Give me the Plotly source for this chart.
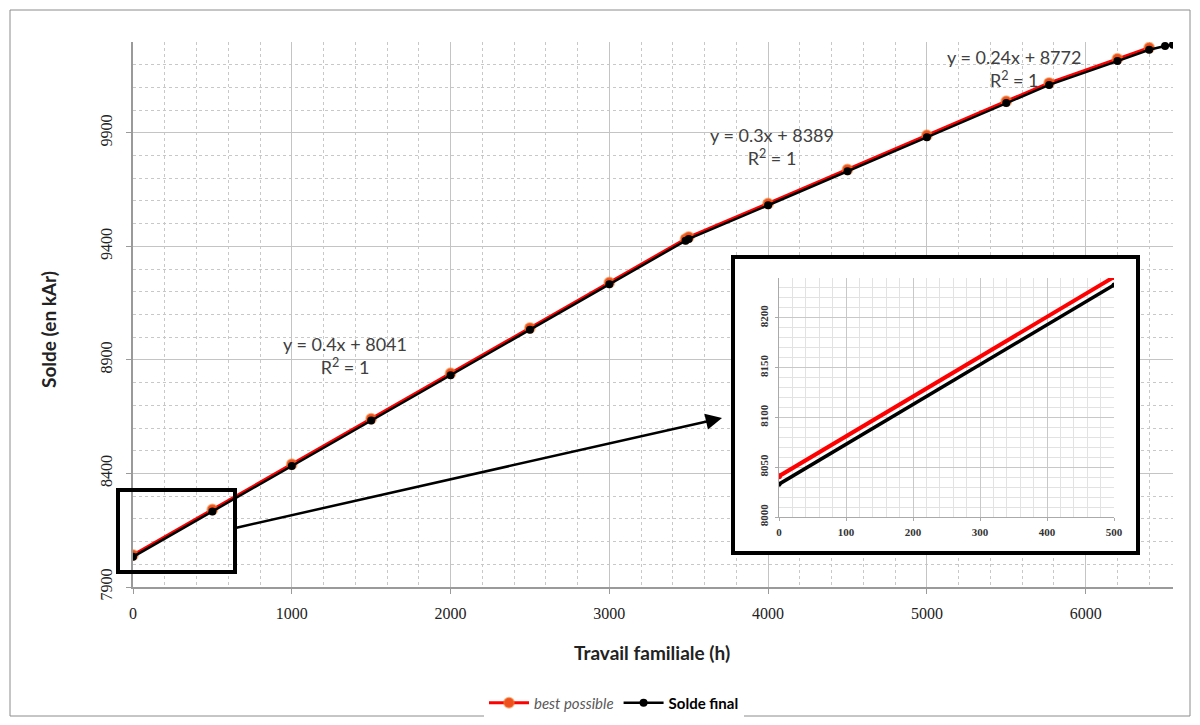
import plotly.graph_objects as go

# ---- data ----
x_best = [0, 500, 1000, 1500, 2000, 2500, 3000, 3480, 3500, 4000, 4500, 5000, 5500, 5770, 6200, 6400]
y_best = [8041, 8241, 8441, 8641, 8841, 9041, 9241, 9433, 9441, 9589, 9739, 9889, 10039, 10120, 10226, 10275]
x_final = [0, 500, 1000, 1500, 2000, 2500, 3000, 3480, 3500, 4000, 4500, 5000, 5500, 5770, 6200, 6400, 6500, 6550]
y_final = [8033, 8233, 8433, 8633, 8833, 9033, 9233, 9425, 9433, 9581, 9731, 9881, 10031, 10111, 10216, 10266, 10282, 10288]
series_names = ["best possible", "Solde final"]
trend_labels = ["y = 0.4x + 8041", "y = 0.3x + 8389", "y = 0.24x + 8772"]
inset_n = 2  # first two points shown in zoomed inset

X_RANGE = [0, 6550]
Y_RANGE = [7900, 10300]

OFF = 8  # page body margin
W, H = 1184, 709   # fits the 1200x725 window with the 8px body margin
# plot area in page pixels: x 133..1173, y 42..587
L, T = 133 - OFF, 42 - OFF
R = W - (1173 - OFF)
B = H - (587 - OFF)
PW, PH = W - L - R, H - T - B


def px(xp):  # page pixel -> paper
    return (xp - OFF - L) / PW


def py(yp):
    return (H - B - (yp - OFF)) / PH


def dx(xp):
    return X_RANGE[0] + px(xp) * (X_RANGE[1] - X_RANGE[0])


def dy(yp):
    return Y_RANGE[0] + py(yp) * (Y_RANGE[1] - Y_RANGE[0])


fig = go.Figure()

RED = "#ff0000"
fig.add_trace(go.Scatter(
    x=x_best, y=y_best, name="<i><span style='color:#595959'>" + series_names[0] + "</span></i>",
    mode="lines+markers",
    line=dict(color=RED, width=3),
    marker=dict(color="#f0501e", size=10, line=dict(color="rgba(240,120,40,0.5)", width=2)),
    xaxis="x", yaxis="y"))
fig.add_trace(go.Scatter(
    x=x_final, y=y_final, name="<b>" + series_names[1] + "</b>", mode="lines+markers",
    line=dict(color="#000000", width=2.5),
    marker=dict(color="#000000", size=8),
    xaxis="x", yaxis="y"))

# inset traces
fig.add_trace(go.Scatter(
    x=x_best[:inset_n], y=y_best[:inset_n], mode="lines+markers", showlegend=False,
    line=dict(color=RED, width=4), marker=dict(color=RED, size=6),
    xaxis="x2", yaxis="y2"))
fig.add_trace(go.Scatter(
    x=x_final[:inset_n], y=y_final[:inset_n], mode="lines+markers", showlegend=False,
    line=dict(color="#000000", width=3.5), marker=dict(color="#000000", size=5),
    xaxis="x2", yaxis="y2"))

tickfont = dict(family="Liberation Serif", size=16, color="#222222")
inset_tickfont = dict(family="Liberation Serif", size=11, color="#333333", weight="bold")

fig.update_layout(
    width=W, height=H,
    margin=dict(l=L, r=R, t=T, b=B, autoexpand=False),
    paper_bgcolor="white", plot_bgcolor="white",
    showlegend=True,
    legend=dict(orientation="h", x=px(614), y=py(703), xanchor="center", yanchor="middle",
                font=dict(family="Lato", size=15, color="#000000"),
                itemwidth=40, tracegroupgap=0),
    xaxis=dict(domain=[0, 1], range=X_RANGE, tick0=0, dtick=1000, tickformat="d",
               showgrid=True, gridcolor="#c4c4c4", gridwidth=1,
               minor=dict(dtick=200, showgrid=True, gridcolor="#c8c8c8", griddash="dot", ticks=""),
               ticks="outside", ticklen=5, tickcolor="#9a9a9a", ticklabelstandoff=6,
               showline=True, linecolor="#9a9a9a", linewidth=1.5, zeroline=False,
               tickfont=tickfont, anchor="y"),
    yaxis=dict(domain=[0, 1], range=Y_RANGE, tick0=7900, dtick=500, tickformat="d",
               showgrid=True, gridcolor="#c4c4c4", gridwidth=1,
               minor=dict(dtick=100, showgrid=True, gridcolor="#c8c8c8", griddash="dot", ticks=""),
               ticks="outside", ticklen=5, tickcolor="#9a9a9a", tickangle=-90, ticklabelstandoff=8,
               showline=True, linecolor="#9a9a9a", linewidth=1.5, zeroline=False,
               tickfont=tickfont, anchor="x"),
    xaxis2=dict(domain=[px(779), px(1114)], range=[0, 500], tick0=0, dtick=100, tickformat="d",
                showgrid=True, gridcolor="#c8c8c8",
                minor=dict(dtick=20, showgrid=True, gridcolor="#e2e2e2"),
                ticks="outside", ticklen=3, tickcolor="#aaaaaa", ticklabelstandoff=2,
                showline=True, linecolor="#aaaaaa", zeroline=False,
                tickfont=inset_tickfont, anchor="y2"),
    yaxis2=dict(domain=[py(517), py(278)], range=[8000, 8240], tick0=8000, dtick=50, tickformat="d",
                showgrid=True, gridcolor="#c8c8c8",
                minor=dict(dtick=10, showgrid=True, gridcolor="#e2e2e2"),
                ticks="outside", ticklen=3, tickcolor="#aaaaaa", tickangle=-90, ticklabelstandoff=3,
                showline=True, linecolor="#aaaaaa", zeroline=False,
                tickfont=inset_tickfont, anchor="x2"),
)

shapes = [
    # outer chart border
    dict(type="rect", xref="paper", yref="paper", x0=px(10), x1=px(1190), y0=py(716), y1=py(10),
         line=dict(color="#8c8c8c", width=1), layer="below"),
    # inset white panel with thick border (main-axes coordinates, above main grid)
    dict(type="rect", xref="x", yref="y", x0=dx(733), x1=dx(1138), y0=dy(553), y1=dy(257),
         fillcolor="white", line=dict(color="black", width=4), layer="between"),
    # zoom rectangle on main chart
    dict(type="rect", xref="paper", yref="paper", x0=px(118), x1=px(235), y0=py(572), y1=py(490),
         line=dict(color="black", width=4), layer="above"),
]
fig.update_layout(shapes=shapes)

eq_font = dict(family="Lato", size=18, color="#404040")
annots = [
    dict(x=px(345), y=py(356), text=trend_labels[0] + "<br>R<sup>2</sup> = 1"),
    dict(x=px(772), y=py(147), text=trend_labels[1] + "<br>R<sup>2</sup> = 1"),
    dict(x=px(1014), y=py(69), text=trend_labels[2] + "<br>R<sup>2</sup> = 1"),
]
for a in annots:
    fig.add_annotation(xref="paper", yref="paper", showarrow=False, font=eq_font,
                       xanchor="center", yanchor="middle", align="center", **a)

# axis titles
fig.add_annotation(xref="paper", yref="paper", x=px(652), y=py(652), text="<b>Travail familiale (h)</b>",
                   showarrow=False, xanchor="center", yanchor="middle",
                   font=dict(family="Lato", size=19, color="#222222"))
fig.add_annotation(xref="paper", yref="paper", x=px(48), y=py(330), text="<b>Solde (en kAr)</b>",
                   showarrow=False, textangle=-90, xanchor="center", yanchor="middle",
                   font=dict(family="Lato", size=19, color="#222222"))

# arrow from zoom box to inset
fig.add_annotation(xref="paper", yref="paper", x=px(722), y=py(418), ax=235 - 722, ay=528 - 418,
                   text="", showarrow=True, arrowhead=2, arrowsize=1.3, arrowwidth=2.5,
                   arrowcolor="black", standoff=0, startstandoff=0)

fig.write_html("out.html")
